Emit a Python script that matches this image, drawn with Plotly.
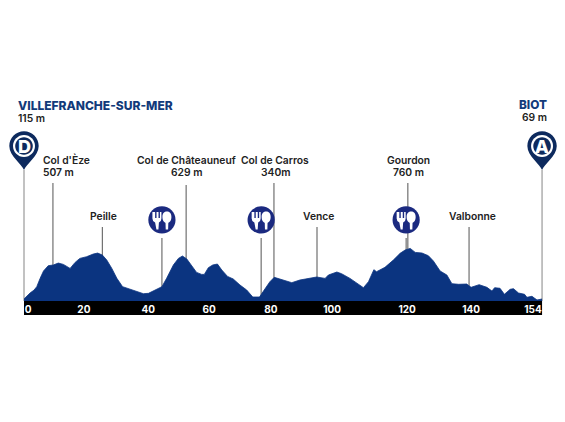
import plotly.graph_objects as go

# the page body keeps its default 8px margin
PAGE = 8
W, H = 565 - PAGE, 422 - PAGE
BASE_PX = 301 - PAGE
LEFT_PX = 24 - PAGE
PX_PER_KM = 3.364
M_PER_PX = 14.5
NAVY = '#0b3480'
PIN = '#0d2a5e'
FOOD = '#1b2a80'
FONT = 'Inter'

km = [0, 0.8, 1.8, 3.0, 3.8, 4.8, 5.8, 7.2, 8.7, 10.2, 11.7, 13.7, 15.2, 16.6, 18.6, 20.6, 21.9, 23.3, 24.6,
      26.1, 27.6, 29.3, 31, 33, 35.5, 37, 38.4, 41, 42.4, 44.4, 45.9, 47.1, 48.4, 49.8, 51.3, 52.8, 53.6, 54.8,
      56.1, 57.5, 58.8, 60.5, 62.2, 64.2, 66.2, 68, 70, 71.4, 73.1, 74.4, 76.1, 79.6, 82, 85, 87, 89.5, 90.5,
      93, 94.4, 96.9, 99.1, 100.9, 102.4, 103.4, 104, 104.8, 107.3, 109.8, 111.8, 113.3, 114.8, 116.3, 118.3,
      120.2, 121.7, 123.7, 125.7, 127.2, 129.2, 131.6, 132.9, 135.3, 137.6, 139.1, 139.9, 141.5, 142.8, 144.5,
      145.5, 147, 148.8, 149.5, 151, 152.5, 154]
elevation = [30, 72, 116, 159, 208, 329, 435, 512, 522, 550, 531, 473, 560, 618, 642, 681, 695, 666, 594,
             473, 329, 208, 183, 145, 106, 111, 145, 208, 329, 522, 618, 652, 609, 512, 415, 386, 386, 483,
             522, 536, 449, 357, 319, 232, 159, 58, 58, 159, 280, 343, 319, 266, 304, 328, 348, 328, 377,
             420, 396, 328, 256, 193, 280, 377, 454, 425, 488, 594, 691, 739, 763, 705, 696,
             657, 580, 435, 377, 251, 242, 246, 198, 237, 198, 145, 193, 184, 97, 169,
             179, 116, 97, 53, 68, 15, 29]

tick_km = [1.2, 17.8, 36.9, 55, 73.4, 91.6, 113.9, 132.9, 151.3]
tick_text = ['0', '20', '40', '60', '80', '100', '120', '140', '154']

# leader lines
line_km = [8.6, 23.3, 41, 48.2, 70.5, 74.3, 87.1, 113.6, 114.1, 132.3]
line_top = [1711, 1073, 913, 1682, 913, 1711, 1073, 913, 1711, 1073]
end_km = [0, 154]
end_top = [1899, 1899]
end_letters = ['D', 'A']

food_km = [41, 70.5, 113.6]
food_y = 1175

place_names = ["Col d'Èze", '507 m', 'Peille', 'Col de Châteauneuf', '629 m', 'Col de Carros', '340m',
               'Vence', 'Gourdon', '760 m', 'Valbonne']
place_x = [41, 41, 103, 186, 186, 275, 275, 318, 408, 408, 472]
place_y = [160, 172, 216, 160, 172, 160, 172, 216, 160, 172, 216]
place_anchor = ['left', 'left', 'center', 'center', 'center', 'center', 'center', 'center', 'center', 'center', 'center']


def circle(cx, cy, r):
  k = 0.5523 * r
  return (f'M{cx - r},{cy} C{cx - r},{cy + k} {cx - k},{cy + r} {cx},{cy + r} '
          f'C{cx + k},{cy + r} {cx + r},{cy + k} {cx + r},{cy} '
          f'C{cx + r},{cy - k} {cx + k},{cy - r} {cx},{cy - r} '
          f'C{cx - k},{cy - r} {cx - r},{cy - k} {cx - r},{cy} Z')


def icon(path, x, y, color):
  return dict(type='path', path=path, xsizemode='pixel', ysizemode='pixel', xanchor=x, yanchor=y,
              xref='x', yref='y', fillcolor=color, line=dict(width=0), layer='above')


def label(text, x, y, size=10.3, color='#222222', anchor='center', weight=600):
  return dict(text=text, x=(x - PAGE) / W, y=(BASE_PX - (y - PAGE)) / BASE_PX, xref='paper', yref='paper', showarrow=False,
              xanchor=anchor, yanchor='middle', font=dict(family=FONT, size=size, color=color, weight=weight))


fig = go.Figure()

for x, top in zip(line_km, line_top):
  fig.add_trace(go.Scatter(x=[x, x], y=[0, top], mode='lines', line=dict(color='#707070', width=1.2), hoverinfo='skip'))
for x, top in zip(end_km, end_top):
  fig.add_trace(go.Scatter(x=[x, x], y=[0, top], mode='lines', line=dict(color='#a8a8a8', width=1.4), hoverinfo='skip'))

fig.add_trace(go.Scatter(x=km, y=elevation, mode='lines', line=dict(color=NAVY, width=0.8), fill='tozeroy', fillcolor=NAVY))

shapes = [dict(type='rect', xref='x', yref='paper', x0=0, x1=154, y0=-14 / BASE_PX, y1=0, fillcolor='black',
               line=dict(width=0), layer='below')]

pin_path = ('M0,0 C-2,6 -14.7,14 -14.7,24 C-14.7,32.1 -8.1,38.7 0,38.7 C8.1,38.7 14.7,32.1 14.7,24 C14.7,14 2,6 0,0 Z')
for x, top in zip(end_km, end_top):
  shapes.append(icon(pin_path, x, top, PIN))
  shapes.append(icon(circle(0, 24, 11), x, top, 'white'))
  shapes.append(icon(circle(0, 24, 8.8), x, top, PIN))

fork = ('M-9.5,8 L-9.5,1.5 Q-9.5,-1.5 -6.8,-2.5 L-5.5,-9.5 L-3.5,-9.5 L-3,-2.5 Q-0.5,-1.5 -0.5,1.5 L-0.5,8 '
        'L-2,8 L-2,2 L-3.4,2 L-3.4,8 L-5.4,8 L-5.4,2 L-6.8,2 L-6.8,8 L-8.2,8 Z')
spoon = 'M0.5,3 C0.5,-1 2.5,-2 3.6,-3 L3.8,-9.5 L6.2,-9.5 L6.4,-3 C7.5,-2 9.5,-1 9.5,3 C9.5,7 7.5,8.5 5,8.5 C2.5,8.5 0.5,7 0.5,3 Z'
for x in food_km:
  shapes.append(icon(circle(0, 0, 13.6), x, food_y, FOOD))
  shapes.append(icon(fork, x, food_y, 'white'))
  shapes.append(icon(spoon, x, food_y, 'white'))

annotations = [label('VILLEFRANCHE-SUR-MER', 16, 105, size=12, color='#123a7a', anchor='left', weight=800),
               label('115 m', 16, 118, anchor='left'),
               label('BIOT', 549, 105, size=11.8, color='#123a7a', anchor='right', weight=800),
               label('69 m', 549, 117, anchor='right')]
for text, x, y, a in zip(place_names, place_x, place_y, place_anchor):
  annotations.append(label(text, x, y, anchor=a))
for x, letter in zip(end_km, end_letters):
  annotations.append(label(letter, 24 + x * PX_PER_KM, 146, size=18, color='white', weight=800))

fig.update_layout(
  width=W, height=H, autosize=False, showlegend=False, plot_bgcolor='white', paper_bgcolor='white',
  margin=dict(l=0, r=0, t=0, b=H - BASE_PX), shapes=shapes, annotations=annotations)
fig.update_xaxes(range=[-LEFT_PX / PX_PER_KM, (W - LEFT_PX) / PX_PER_KM], showgrid=False, zeroline=False, showline=False,
                 tickvals=tick_km, ticktext=tick_text, ticklen=0, ticklabelstandoff=1,
                 tickfont=dict(family=FONT, size=10, color='white', weight=700))
fig.update_yaxes(range=[0, BASE_PX * M_PER_PX], showgrid=False, zeroline=False, showline=False, showticklabels=False)

fig.write_html("out.html", config=dict(displayModeBar=False))
